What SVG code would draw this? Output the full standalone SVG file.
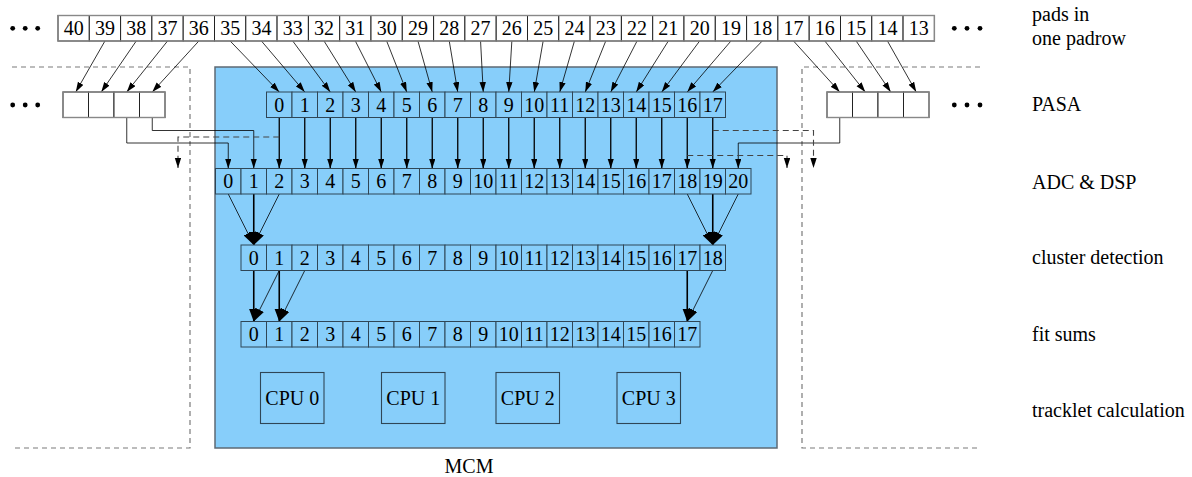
<svg xmlns="http://www.w3.org/2000/svg" width="1192" height="477" viewBox="0 0 1192 477">
<style>
.w rect{fill:#fff;stroke:#222;stroke-width:1}
.b rect{fill:#87cefa;stroke:#2f4656;stroke-width:1}
text{font-family:"Liberation Serif","Times New Roman",serif;font-size:20px;fill:#000}
.n text,.cpu text{text-anchor:middle}
.frame{fill:none;stroke:#7a7a7a;stroke-width:1.2;stroke-dasharray:5,4}
.w rect.rowframe{fill:none;stroke:#888;stroke-width:1.4}
#connectors line,#connectors polyline{fill:none;stroke:#000}
#connectors .thin{stroke-width:0.8}
#connectors .mid{stroke-width:1.3}
#connectors .thick{stroke-width:1.6}
#connectors .sm{marker-end:url(#ah)}
#connectors .bg{marker-end:url(#ahb)}
#connectors .dash{stroke:#444;stroke-width:1.1;stroke-dasharray:6,4}
.cpu rect{fill:#87cefa;stroke:#2f4656;stroke-width:1.1}
</style>
<defs>
<marker id="ah" markerUnits="userSpaceOnUse" markerWidth="10" markerHeight="7" refX="10" refY="3.2" orient="auto"><path d="M0,0 L10,3.2 L0,6.4 z" fill="#000"/></marker>
<marker id="ahb" markerUnits="userSpaceOnUse" markerWidth="13" markerHeight="10" refX="13" refY="4.8" orient="auto"><path d="M0,0 L13,4.8 L0,9.6 z" fill="#000"/></marker>
</defs>
<rect width="1192" height="477" fill="#fff"/>

<g id="mcm"><rect x="215" y="67" width="562" height="381" fill="#87cefa" stroke="#5d6a74" stroke-width="1.5"/>
<text x="469" y="473" text-anchor="middle">MCM</text></g>

<g id="neighbours">
<polyline class="frame" points="12,67 190,67 190,448 12,448"/>
<polyline class="frame" points="980,67 802,67 802,448 980,448"/>
</g>

<g id="dots" fill="#000">
<circle cx="12.7" cy="28.3" r="2.4"/><circle cx="25.2" cy="28.3" r="2.4"/><circle cx="37.7" cy="28.3" r="2.4"/>
<circle cx="12.7" cy="105" r="2.4"/><circle cx="25.2" cy="105" r="2.4"/><circle cx="37.7" cy="105" r="2.4"/>
<circle cx="954.3" cy="28.3" r="2.4"/><circle cx="967" cy="28.3" r="2.4"/><circle cx="980" cy="28.3" r="2.4"/>
<circle cx="954.3" cy="105" r="2.4"/><circle cx="967" cy="105" r="2.4"/><circle cx="980" cy="105" r="2.4"/>
</g>

<g id="labels">
<text x="1032" y="21">pads in</text>
<text x="1032" y="45">one padrow</text>
<text x="1032" y="111">PASA</text>
<text x="1032" y="189">ADC &amp; DSP</text>
<text x="1032" y="264">cluster detection</text>
<text x="1032" y="341">fit sums</text>
<text x="1032" y="417">tracklet calculation</text>
</g>

<g id="connectors">
<line class="thin sm" x1="104.95" y1="41" x2="75.75" y2="92"/>
<line class="thin sm" x1="136.25" y1="41" x2="101.25" y2="92"/>
<line class="thin sm" x1="167.55" y1="41" x2="126.75" y2="92"/>
<line class="thin sm" x1="198.85" y1="41" x2="152.25" y2="92"/>
<line class="thin sm" x1="230.15" y1="41" x2="279.25" y2="92"/>
<line class="thin sm" x1="261.45" y1="41" x2="304.75" y2="92"/>
<line class="thin sm" x1="292.75" y1="41" x2="330.25" y2="92"/>
<line class="thin sm" x1="324.05" y1="41" x2="355.75" y2="92"/>
<line class="thin sm" x1="355.35" y1="41" x2="381.25" y2="92"/>
<line class="thin sm" x1="386.65" y1="41" x2="406.75" y2="92"/>
<line class="thin sm" x1="417.95" y1="41" x2="432.25" y2="92"/>
<line class="thin sm" x1="449.25" y1="41" x2="457.75" y2="92"/>
<line class="thin sm" x1="480.55" y1="41" x2="483.25" y2="92"/>
<line class="thin sm" x1="511.85" y1="41" x2="508.75" y2="92"/>
<line class="thin sm" x1="543.15" y1="41" x2="534.25" y2="92"/>
<line class="thin sm" x1="574.45" y1="41" x2="559.75" y2="92"/>
<line class="thin sm" x1="605.75" y1="41" x2="585.25" y2="92"/>
<line class="thin sm" x1="637.05" y1="41" x2="610.75" y2="92"/>
<line class="thin sm" x1="668.35" y1="41" x2="636.25" y2="92"/>
<line class="thin sm" x1="699.65" y1="41" x2="661.75" y2="92"/>
<line class="thin sm" x1="730.95" y1="41" x2="687.25" y2="92"/>
<line class="thin sm" x1="762.25" y1="41" x2="712.75" y2="92"/>
<line class="thin sm" x1="793.55" y1="41" x2="839.75" y2="92"/>
<line class="thin sm" x1="824.85" y1="41" x2="865.25" y2="92"/>
<line class="thin sm" x1="856.15" y1="41" x2="890.75" y2="92"/>
<line class="thin sm" x1="887.45" y1="41" x2="916.25" y2="92"/>

<line class="mid sm" x1="279.25" y1="117.5" x2="279.25" y2="168.5"/>
<line class="mid sm" x1="304.75" y1="117.5" x2="304.75" y2="168.5"/>
<line class="mid sm" x1="330.25" y1="117.5" x2="330.25" y2="168.5"/>
<line class="mid sm" x1="355.75" y1="117.5" x2="355.75" y2="168.5"/>
<line class="mid sm" x1="381.25" y1="117.5" x2="381.25" y2="168.5"/>
<line class="mid sm" x1="406.75" y1="117.5" x2="406.75" y2="168.5"/>
<line class="mid sm" x1="432.25" y1="117.5" x2="432.25" y2="168.5"/>
<line class="mid sm" x1="457.75" y1="117.5" x2="457.75" y2="168.5"/>
<line class="mid sm" x1="483.25" y1="117.5" x2="483.25" y2="168.5"/>
<line class="mid sm" x1="508.75" y1="117.5" x2="508.75" y2="168.5"/>
<line class="mid sm" x1="534.25" y1="117.5" x2="534.25" y2="168.5"/>
<line class="mid sm" x1="559.75" y1="117.5" x2="559.75" y2="168.5"/>
<line class="mid sm" x1="585.25" y1="117.5" x2="585.25" y2="168.5"/>
<line class="mid sm" x1="610.75" y1="117.5" x2="610.75" y2="168.5"/>
<line class="mid sm" x1="636.25" y1="117.5" x2="636.25" y2="168.5"/>
<line class="mid sm" x1="661.75" y1="117.5" x2="661.75" y2="168.5"/>
<line class="mid sm" x1="687.25" y1="117.5" x2="687.25" y2="168.5"/>
<line class="mid sm" x1="712.75" y1="117.5" x2="712.75" y2="168.5"/>

<polyline class="thin sm" points="126.75,117.5 126.75,143 228.25,143 228.25,168.5"/>
<polyline class="thin sm" points="152.25,117.5 152.25,130.5 253.75,130.5 253.75,168.5"/>
<polyline class="thin sm" points="839.75,117.5 839.75,143 738.25,143 738.25,168.5"/>
<polyline class="dash sm" points="279.25,137 178,137 178,168"/>
<polyline class="dash sm" points="712.75,130.5 813.5,130.5 813.5,168"/>
<polyline class="dash sm" points="687.25,155.5 787,155.5 787,168"/>

<line class="thin bg" x1="228.25" y1="194" x2="253.75" y2="245"/>
<line class="thin bg" x1="279.25" y1="194" x2="253.75" y2="245"/>
<line class="thick bg" x1="253.75" y1="194" x2="253.75" y2="245"/>
<line class="thin bg" x1="687.25" y1="194" x2="712.75" y2="245"/>
<line class="thin bg" x1="738.25" y1="194" x2="712.75" y2="245"/>
<line class="thick bg" x1="712.75" y1="194" x2="712.75" y2="245"/>

<line class="thick bg" x1="253.75" y1="270.5" x2="253.75" y2="321.5"/>
<line class="thin bg" x1="279.25" y1="270.5" x2="253.75" y2="321.5"/>
<line class="thick bg" x1="279.25" y1="270.5" x2="279.25" y2="321.5"/>
<line class="thin bg" x1="304.75" y1="270.5" x2="279.25" y2="321.5"/>
<line class="thick bg" x1="687.25" y1="270.5" x2="687.25" y2="321.5"/>
<line class="thin bg" x1="712.75" y1="270.5" x2="687.25" y2="321.5"/>
</g>

<g id="pads" class="w n">
<g id="pad40"><rect x="58" y="15.5" width="31.3" height="25.5"/><text x="73.65" y="35">40</text></g>
<g id="pad39"><rect x="89.3" y="15.5" width="31.3" height="25.5"/><text x="104.95" y="35">39</text></g>
<g id="pad38"><rect x="120.6" y="15.5" width="31.3" height="25.5"/><text x="136.25" y="35">38</text></g>
<g id="pad37"><rect x="151.9" y="15.5" width="31.3" height="25.5"/><text x="167.55" y="35">37</text></g>
<g id="pad36"><rect x="183.2" y="15.5" width="31.3" height="25.5"/><text x="198.85" y="35">36</text></g>
<g id="pad35"><rect x="214.5" y="15.5" width="31.3" height="25.5"/><text x="230.15" y="35">35</text></g>
<g id="pad34"><rect x="245.8" y="15.5" width="31.3" height="25.5"/><text x="261.45" y="35">34</text></g>
<g id="pad33"><rect x="277.1" y="15.5" width="31.3" height="25.5"/><text x="292.75" y="35">33</text></g>
<g id="pad32"><rect x="308.4" y="15.5" width="31.3" height="25.5"/><text x="324.05" y="35">32</text></g>
<g id="pad31"><rect x="339.7" y="15.5" width="31.3" height="25.5"/><text x="355.35" y="35">31</text></g>
<g id="pad30"><rect x="371" y="15.5" width="31.3" height="25.5"/><text x="386.65" y="35">30</text></g>
<g id="pad29"><rect x="402.3" y="15.5" width="31.3" height="25.5"/><text x="417.95" y="35">29</text></g>
<g id="pad28"><rect x="433.6" y="15.5" width="31.3" height="25.5"/><text x="449.25" y="35">28</text></g>
<g id="pad27"><rect x="464.9" y="15.5" width="31.3" height="25.5"/><text x="480.55" y="35">27</text></g>
<g id="pad26"><rect x="496.2" y="15.5" width="31.3" height="25.5"/><text x="511.85" y="35">26</text></g>
<g id="pad25"><rect x="527.5" y="15.5" width="31.3" height="25.5"/><text x="543.15" y="35">25</text></g>
<g id="pad24"><rect x="558.8" y="15.5" width="31.3" height="25.5"/><text x="574.45" y="35">24</text></g>
<g id="pad23"><rect x="590.1" y="15.5" width="31.3" height="25.5"/><text x="605.75" y="35">23</text></g>
<g id="pad22"><rect x="621.4" y="15.5" width="31.3" height="25.5"/><text x="637.05" y="35">22</text></g>
<g id="pad21"><rect x="652.7" y="15.5" width="31.3" height="25.5"/><text x="668.35" y="35">21</text></g>
<g id="pad20"><rect x="684" y="15.5" width="31.3" height="25.5"/><text x="699.65" y="35">20</text></g>
<g id="pad19"><rect x="715.3" y="15.5" width="31.3" height="25.5"/><text x="730.95" y="35">19</text></g>
<g id="pad18"><rect x="746.6" y="15.5" width="31.3" height="25.5"/><text x="762.25" y="35">18</text></g>
<g id="pad17"><rect x="777.9" y="15.5" width="31.3" height="25.5"/><text x="793.55" y="35">17</text></g>
<g id="pad16"><rect x="809.2" y="15.5" width="31.3" height="25.5"/><text x="824.85" y="35">16</text></g>
<g id="pad15"><rect x="840.5" y="15.5" width="31.3" height="25.5"/><text x="856.15" y="35">15</text></g>
<g id="pad14"><rect x="871.8" y="15.5" width="31.3" height="25.5"/><text x="887.45" y="35">14</text></g>
<g id="pad13"><rect x="903.1" y="15.5" width="31.3" height="25.5"/><text x="918.75" y="35">13</text></g>
<rect class="rowframe" x="58" y="15.5" width="876.4" height="25.5"/>
</g>

<g id="pasa-left" class="w n">
<g id="pasaL0"><rect x="63" y="92" width="25.5" height="25.5"/></g>
<g id="pasaL1"><rect x="88.5" y="92" width="25.5" height="25.5"/></g>
<g id="pasaL2"><rect x="114" y="92" width="25.5" height="25.5"/></g>
<g id="pasaL3"><rect x="139.5" y="92" width="25.5" height="25.5"/></g>
<rect class="rowframe" x="63" y="92" width="102" height="25.5"/>
</g>
<g id="pasa-right" class="w n">
<g id="pasaR0"><rect x="827" y="92" width="25.5" height="25.5"/></g>
<g id="pasaR1"><rect x="852.5" y="92" width="25.5" height="25.5"/></g>
<g id="pasaR2"><rect x="878" y="92" width="25.5" height="25.5"/></g>
<g id="pasaR3"><rect x="903.5" y="92" width="25.5" height="25.5"/></g>
<rect class="rowframe" x="827" y="92" width="102" height="25.5"/>
</g>

<g id="pasa" class="b n">
<g id="pasa0"><rect x="266.5" y="92" width="25.5" height="25.5"/><text x="279.25" y="111.5">0</text></g>
<g id="pasa1"><rect x="292" y="92" width="25.5" height="25.5"/><text x="304.75" y="111.5">1</text></g>
<g id="pasa2"><rect x="317.5" y="92" width="25.5" height="25.5"/><text x="330.25" y="111.5">2</text></g>
<g id="pasa3"><rect x="343" y="92" width="25.5" height="25.5"/><text x="355.75" y="111.5">3</text></g>
<g id="pasa4"><rect x="368.5" y="92" width="25.5" height="25.5"/><text x="381.25" y="111.5">4</text></g>
<g id="pasa5"><rect x="394" y="92" width="25.5" height="25.5"/><text x="406.75" y="111.5">5</text></g>
<g id="pasa6"><rect x="419.5" y="92" width="25.5" height="25.5"/><text x="432.25" y="111.5">6</text></g>
<g id="pasa7"><rect x="445" y="92" width="25.5" height="25.5"/><text x="457.75" y="111.5">7</text></g>
<g id="pasa8"><rect x="470.5" y="92" width="25.5" height="25.5"/><text x="483.25" y="111.5">8</text></g>
<g id="pasa9"><rect x="496" y="92" width="25.5" height="25.5"/><text x="508.75" y="111.5">9</text></g>
<g id="pasa10"><rect x="521.5" y="92" width="25.5" height="25.5"/><text x="534.25" y="111.5">10</text></g>
<g id="pasa11"><rect x="547" y="92" width="25.5" height="25.5"/><text x="559.75" y="111.5">11</text></g>
<g id="pasa12"><rect x="572.5" y="92" width="25.5" height="25.5"/><text x="585.25" y="111.5">12</text></g>
<g id="pasa13"><rect x="598" y="92" width="25.5" height="25.5"/><text x="610.75" y="111.5">13</text></g>
<g id="pasa14"><rect x="623.5" y="92" width="25.5" height="25.5"/><text x="636.25" y="111.5">14</text></g>
<g id="pasa15"><rect x="649" y="92" width="25.5" height="25.5"/><text x="661.75" y="111.5">15</text></g>
<g id="pasa16"><rect x="674.5" y="92" width="25.5" height="25.5"/><text x="687.25" y="111.5">16</text></g>
<g id="pasa17"><rect x="700" y="92" width="25.5" height="25.5"/><text x="712.75" y="111.5">17</text></g>
</g>

<g id="adc" class="b n">
<g id="adc0"><rect x="215.5" y="168.5" width="25.5" height="25.5"/><text x="228.25" y="188">0</text></g>
<g id="adc1"><rect x="241" y="168.5" width="25.5" height="25.5"/><text x="253.75" y="188">1</text></g>
<g id="adc2"><rect x="266.5" y="168.5" width="25.5" height="25.5"/><text x="279.25" y="188">2</text></g>
<g id="adc3"><rect x="292" y="168.5" width="25.5" height="25.5"/><text x="304.75" y="188">3</text></g>
<g id="adc4"><rect x="317.5" y="168.5" width="25.5" height="25.5"/><text x="330.25" y="188">4</text></g>
<g id="adc5"><rect x="343" y="168.5" width="25.5" height="25.5"/><text x="355.75" y="188">5</text></g>
<g id="adc6"><rect x="368.5" y="168.5" width="25.5" height="25.5"/><text x="381.25" y="188">6</text></g>
<g id="adc7"><rect x="394" y="168.5" width="25.5" height="25.5"/><text x="406.75" y="188">7</text></g>
<g id="adc8"><rect x="419.5" y="168.5" width="25.5" height="25.5"/><text x="432.25" y="188">8</text></g>
<g id="adc9"><rect x="445" y="168.5" width="25.5" height="25.5"/><text x="457.75" y="188">9</text></g>
<g id="adc10"><rect x="470.5" y="168.5" width="25.5" height="25.5"/><text x="483.25" y="188">10</text></g>
<g id="adc11"><rect x="496" y="168.5" width="25.5" height="25.5"/><text x="508.75" y="188">11</text></g>
<g id="adc12"><rect x="521.5" y="168.5" width="25.5" height="25.5"/><text x="534.25" y="188">12</text></g>
<g id="adc13"><rect x="547" y="168.5" width="25.5" height="25.5"/><text x="559.75" y="188">13</text></g>
<g id="adc14"><rect x="572.5" y="168.5" width="25.5" height="25.5"/><text x="585.25" y="188">14</text></g>
<g id="adc15"><rect x="598" y="168.5" width="25.5" height="25.5"/><text x="610.75" y="188">15</text></g>
<g id="adc16"><rect x="623.5" y="168.5" width="25.5" height="25.5"/><text x="636.25" y="188">16</text></g>
<g id="adc17"><rect x="649" y="168.5" width="25.5" height="25.5"/><text x="661.75" y="188">17</text></g>
<g id="adc18"><rect x="674.5" y="168.5" width="25.5" height="25.5"/><text x="687.25" y="188">18</text></g>
<g id="adc19"><rect x="700" y="168.5" width="25.5" height="25.5"/><text x="712.75" y="188">19</text></g>
<g id="adc20"><rect x="725.5" y="168.5" width="25.5" height="25.5"/><text x="738.25" y="188">20</text></g>
</g>

<g id="cluster" class="b n">
<g id="cl0"><rect x="241" y="245" width="25.5" height="25.5"/><text x="253.75" y="264.5">0</text></g>
<g id="cl1"><rect x="266.5" y="245" width="25.5" height="25.5"/><text x="279.25" y="264.5">1</text></g>
<g id="cl2"><rect x="292" y="245" width="25.5" height="25.5"/><text x="304.75" y="264.5">2</text></g>
<g id="cl3"><rect x="317.5" y="245" width="25.5" height="25.5"/><text x="330.25" y="264.5">3</text></g>
<g id="cl4"><rect x="343" y="245" width="25.5" height="25.5"/><text x="355.75" y="264.5">4</text></g>
<g id="cl5"><rect x="368.5" y="245" width="25.5" height="25.5"/><text x="381.25" y="264.5">5</text></g>
<g id="cl6"><rect x="394" y="245" width="25.5" height="25.5"/><text x="406.75" y="264.5">6</text></g>
<g id="cl7"><rect x="419.5" y="245" width="25.5" height="25.5"/><text x="432.25" y="264.5">7</text></g>
<g id="cl8"><rect x="445" y="245" width="25.5" height="25.5"/><text x="457.75" y="264.5">8</text></g>
<g id="cl9"><rect x="470.5" y="245" width="25.5" height="25.5"/><text x="483.25" y="264.5">9</text></g>
<g id="cl10"><rect x="496" y="245" width="25.5" height="25.5"/><text x="508.75" y="264.5">10</text></g>
<g id="cl11"><rect x="521.5" y="245" width="25.5" height="25.5"/><text x="534.25" y="264.5">11</text></g>
<g id="cl12"><rect x="547" y="245" width="25.5" height="25.5"/><text x="559.75" y="264.5">12</text></g>
<g id="cl13"><rect x="572.5" y="245" width="25.5" height="25.5"/><text x="585.25" y="264.5">13</text></g>
<g id="cl14"><rect x="598" y="245" width="25.5" height="25.5"/><text x="610.75" y="264.5">14</text></g>
<g id="cl15"><rect x="623.5" y="245" width="25.5" height="25.5"/><text x="636.25" y="264.5">15</text></g>
<g id="cl16"><rect x="649" y="245" width="25.5" height="25.5"/><text x="661.75" y="264.5">16</text></g>
<g id="cl17"><rect x="674.5" y="245" width="25.5" height="25.5"/><text x="687.25" y="264.5">17</text></g>
<g id="cl18"><rect x="700" y="245" width="25.5" height="25.5"/><text x="712.75" y="264.5">18</text></g>
</g>

<g id="fitsums" class="b n">
<g id="fit0"><rect x="241" y="321.5" width="25.5" height="25.5"/><text x="253.75" y="341">0</text></g>
<g id="fit1"><rect x="266.5" y="321.5" width="25.5" height="25.5"/><text x="279.25" y="341">1</text></g>
<g id="fit2"><rect x="292" y="321.5" width="25.5" height="25.5"/><text x="304.75" y="341">2</text></g>
<g id="fit3"><rect x="317.5" y="321.5" width="25.5" height="25.5"/><text x="330.25" y="341">3</text></g>
<g id="fit4"><rect x="343" y="321.5" width="25.5" height="25.5"/><text x="355.75" y="341">4</text></g>
<g id="fit5"><rect x="368.5" y="321.5" width="25.5" height="25.5"/><text x="381.25" y="341">5</text></g>
<g id="fit6"><rect x="394" y="321.5" width="25.5" height="25.5"/><text x="406.75" y="341">6</text></g>
<g id="fit7"><rect x="419.5" y="321.5" width="25.5" height="25.5"/><text x="432.25" y="341">7</text></g>
<g id="fit8"><rect x="445" y="321.5" width="25.5" height="25.5"/><text x="457.75" y="341">8</text></g>
<g id="fit9"><rect x="470.5" y="321.5" width="25.5" height="25.5"/><text x="483.25" y="341">9</text></g>
<g id="fit10"><rect x="496" y="321.5" width="25.5" height="25.5"/><text x="508.75" y="341">10</text></g>
<g id="fit11"><rect x="521.5" y="321.5" width="25.5" height="25.5"/><text x="534.25" y="341">11</text></g>
<g id="fit12"><rect x="547" y="321.5" width="25.5" height="25.5"/><text x="559.75" y="341">12</text></g>
<g id="fit13"><rect x="572.5" y="321.5" width="25.5" height="25.5"/><text x="585.25" y="341">13</text></g>
<g id="fit14"><rect x="598" y="321.5" width="25.5" height="25.5"/><text x="610.75" y="341">14</text></g>
<g id="fit15"><rect x="623.5" y="321.5" width="25.5" height="25.5"/><text x="636.25" y="341">15</text></g>
<g id="fit16"><rect x="649" y="321.5" width="25.5" height="25.5"/><text x="661.75" y="341">16</text></g>
<g id="fit17"><rect x="674.5" y="321.5" width="25.5" height="25.5"/><text x="687.25" y="341">17</text></g>
</g>

<g id="cpu0" class="cpu"><rect x="260.5" y="372.5" width="63.5" height="51"/><text x="292.25" y="405">CPU 0</text></g>
<g id="cpu1" class="cpu"><rect x="381.5" y="372.5" width="63.5" height="51"/><text x="413.25" y="405">CPU 1</text></g>
<g id="cpu2" class="cpu"><rect x="496" y="372.5" width="63.5" height="51"/><text x="527.75" y="405">CPU 2</text></g>
<g id="cpu3" class="cpu"><rect x="617" y="372.5" width="63.5" height="51"/><text x="648.75" y="405">CPU 3</text></g>
</svg>
